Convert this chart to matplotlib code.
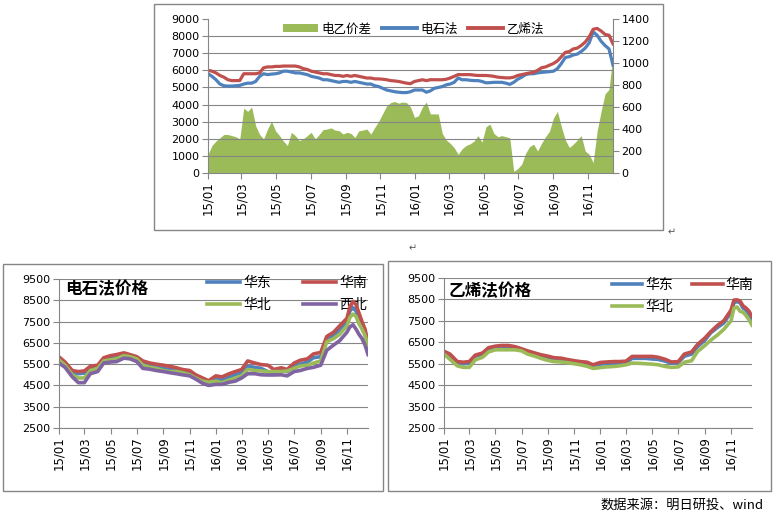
import matplotlib
matplotlib.use('Agg')
import matplotlib.pyplot as plt
import pandas as pd
from matplotlib.patches import Rectangle, Patch
from matplotlib.lines import Line2D

plt.rcParams['font.family'] = ['DejaVu Sans', 'Noto Sans CJK SC']

# ---- data ----
# top chart, weekly
top_dates = pd.date_range('2015-01-01', periods=103, freq='7D')
top_carbide = [5800, 5650, 5450, 5200, 5100, 5080, 5080, 5100, 5120,
               5200, 5250, 5250, 5350, 5650, 5800, 5750, 5780, 5800,
               5850, 5950, 5950, 5900, 5850, 5850, 5800, 5750, 5650,
               5600, 5550, 5450, 5450, 5400, 5350, 5300, 5350,
               5350, 5300, 5350, 5300, 5250, 5200, 5200, 5100, 5050,
               4950, 4850, 4800, 4750, 4720, 4700, 4700, 4750, 4850,
               4850, 4850, 4720, 4800, 4950, 5000, 5050, 5150,
               5200, 5300, 5550, 5450, 5450, 5420, 5400, 5400, 5350,
               5270, 5280, 5300, 5300, 5300, 5250, 5180, 5300, 5480,
               5600, 5750, 5800, 5800, 5850, 5880, 5900, 5920,
               5950, 6100, 6400, 6750, 6800, 6900, 6950, 7100, 7300,
               7600, 8250, 8050, 7700, 7450, 7250, 6300]
top_ethylene = [6000, 5950, 5850, 5700, 5600, 5450, 5400, 5400, 5400,
                5800, 5800, 5800, 5800, 5850, 6150, 6200, 6200, 6230,
                6230, 6250, 6250, 6250, 6250, 6200, 6100, 6050, 5950,
                5900, 5850, 5800, 5800, 5750, 5700, 5700, 5650,
                5700, 5650, 5700, 5650, 5600, 5550, 5550, 5500, 5500,
                5480, 5450, 5400, 5380, 5350, 5300, 5250, 5220, 5350,
                5400, 5450, 5400, 5450, 5450, 5450, 5450, 5480,
                5550, 5650, 5750, 5750, 5750, 5750, 5720, 5700, 5700,
                5700, 5680, 5650, 5600, 5580, 5560, 5560, 5600, 5700,
                5750, 5800, 5850, 5880, 6000, 6150, 6200, 6300,
                6400, 6550, 6800, 7050, 7100, 7250, 7300, 7450, 7650,
                7950, 8400, 8450, 8300, 8100, 8050, 7550]
top_spread = [170, 250, 290, 320, 350, 350, 340, 330, 310,
              590, 560, 600, 430, 350, 310, 400, 470, 384,
              340, 290, 250, 370, 340, 295, 310, 340, 370,
              310, 350, 395, 400, 410, 390, 385, 354,
              370, 360, 323, 384, 390, 400, 354, 415, 470,
              540, 610, 640, 650, 635, 645, 640, 600, 506,
              520, 600, 645, 537, 537, 537, 360, 300,
              270, 230, 170, 220, 250, 265, 290, 340, 280,
              420, 445, 360, 330, 340, 330, 320, 15, 40,
              80, 180, 240, 262, 200, 270, 330, 380,
              500, 560, 420, 300, 232, 262, 300, 340, 200,
              170, 95, 380, 560, 720, 760, 1080]

# bottom charts: semi-monthly, weekly from 2016-11
bot_dates = (list(pd.date_range('2015-01-01', '2016-10-16', freq='SMS'))
             + list(pd.date_range('2016-11-01', periods=8, freq='7D')))

cb_east = [5750, 5500, 5100, 5050, 5080, 5300, 5350, 5700, 5750, 5800,
           5950, 5850, 5800, 5550, 5450, 5350, 5300, 5250, 5200, 5150,
           5050, 4900, 4750, 4700, 4800, 4750, 4900, 5000, 5100, 5400,
           5350, 5300, 5150, 5100, 5200, 5150, 5400, 5500, 5600, 5800,
           5850, 6650, 6850, 7100,
           7500, 8000, 8150, 8000, 7600, 7300, 6900, 6200]
cb_south = [5840, 5600, 5200, 5150, 5180, 5400, 5450, 5800, 5900, 5950,
            6030, 5950, 5850, 5650, 5550, 5500, 5450, 5400, 5330, 5250,
            5200, 5000, 4850, 4720, 4950, 4900, 5050, 5150, 5250, 5650,
            5550, 5480, 5450, 5250, 5330, 5250, 5550, 5680, 5750, 5980,
            6050, 6800, 7000, 7300,
            7650, 8200, 8450, 8300, 7900, 7500, 7150, 6500]
cb_north = [5700, 5450, 5000, 4850, 4850, 5200, 5300, 5650, 5700, 5750,
            5900, 5850, 5750, 5450, 5350, 5300, 5200, 5150, 5150, 5100,
            5000, 4850, 4700, 4650, 4700, 4630, 4750, 4850, 4950, 5250,
            5200, 5180, 5150, 5150, 5150, 5180, 5300, 5410, 5450, 5550,
            5650, 6550, 6700, 6900,
            7300, 7700, 7850, 7750, 7400, 7150, 6850, 6400]
cb_northwest = [5550, 5350, 4900, 4630, 4630, 5050, 5150, 5550, 5600, 5620,
                5780, 5750, 5620, 5300, 5260, 5200, 5150, 5100, 5050, 5000,
                4950, 4800, 4600, 4500, 4550, 4550, 4650, 4700, 4850, 5050,
                5050, 5000, 4990, 4990, 5000, 4950, 5150, 5200, 5300, 5350,
                5450, 6150, 6400, 6600,
                7000, 7250, 7350, 7150, 6900, 6700, 6400, 5950]

et_east = [6000, 5900, 5550, 5500, 5520, 5850, 5950, 6200, 6250, 6300,
           6300, 6250, 6150, 6050, 5950, 5870, 5800, 5700, 5700, 5650,
           5600, 5550, 5500, 5420, 5480, 5500, 5520, 5520, 5550, 5750,
           5750, 5750, 5720, 5700, 5620, 5520, 5560, 5850, 5950, 6300,
           6600, 6950, 7200, 7400,
           7900, 8350, 8400, 8350, 8100, 8000, 7800, 7600]
et_south = [6080, 5950, 5600, 5570, 5600, 5900, 6000, 6250, 6320, 6350,
            6350, 6300, 6200, 6100, 6000, 5920, 5850, 5780, 5760, 5700,
            5640, 5600, 5570, 5450, 5560, 5580, 5600, 5600, 5620, 5840,
            5840, 5840, 5840, 5800, 5700, 5580, 5600, 5950, 6050, 6400,
            6700, 7000, 7300, 7500,
            8000, 8470, 8480, 8430, 8200, 8100, 7950, 7700]
et_north = [5950, 5700, 5400, 5330, 5330, 5680, 5800, 6050, 6150, 6150,
            6150, 6150, 6100, 5950, 5850, 5750, 5650, 5600, 5580, 5550,
            5500, 5450, 5380, 5280, 5320, 5350, 5370, 5400, 5450, 5530,
            5520, 5500, 5480, 5450, 5370, 5330, 5350, 5570, 5640, 6070,
            6350, 6600, 6850, 7100,
            7500, 8100, 8150, 7950, 7900, 7750, 7550, 7300]

tick_dates = pd.date_range('2015-01-01', '2016-11-01', freq='2MS')
tick_labels = ['15/01', '15/03', '15/05', '15/07', '15/09', '15/11',
               '16/01', '16/03', '16/05', '16/07', '16/09', '16/11']

BLUE = '#4F81BD'
RED = '#C0504D'
GREEN = '#9BBB59'
PURPLE = '#8064A2'
GRAY = '#868686'


def style_axes(ax, ylo, yhi, ystep, xend):
    ax.set_ylim(ylo, yhi)
    ax.set_yticks(range(ylo, yhi + 1, ystep))
    ax.set_xlim(pd.Timestamp('2015-01-01'), xend)
    ax.set_xticks(tick_dates)
    ax.set_xticklabels(tick_labels, rotation=90, fontsize=8.5)
    ax.tick_params(axis='y', labelsize=8, length=4, color=GRAY, pad=2)
    ax.tick_params(axis='x', length=4, color=GRAY, pad=2)
    for s in ['top', 'right']:
        ax.spines[s].set_visible(False)
    for s in ['left', 'bottom']:
        ax.spines[s].set_color(GRAY)
    ax.yaxis.grid(True, color=GRAY, lw=0.8)
    ax.set_axisbelow(True)


fig = plt.figure(figsize=(7.73, 5.15), dpi=100)

# frames
for (x0, y0, w, h) in [(154, 4, 509, 226), (3, 264, 380, 227), (388, 261, 383, 230)]:
    fig.patches.append(Rectangle((x0 / 773, 1 - (y0 + h) / 515), w / 773, h / 515,
                                 transform=fig.transFigure, fill=False,
                                 edgecolor=GRAY, lw=1))

# ---- top chart ----
ax_s = fig.add_axes([208 / 773, 1 - 173 / 515, 405 / 773, 154 / 515])
ax_p = ax_s.twinx()
ax_s.set_zorder(0)
ax_p.set_zorder(1)
ax_p.patch.set_visible(False)

ax_s.fill_between(top_dates, 0, top_spread, color=GREEN, lw=0)
ax_s.set_ylim(0, 1400)
ax_s.yaxis.tick_right()
ax_s.set_yticks(range(0, 1401, 200))
grid_vals = [v * 1400 / 9000 for v in range(0, 9001, 1000)]
ax_s.set_yticks(grid_vals, minor=True)
ax_s.yaxis.grid(True, which='minor', color=GRAY, lw=0.8)
ax_s.tick_params(axis='y', which='minor', length=0)
ax_s.tick_params(axis='y', labelsize=8, length=4, color=GRAY, pad=2)
ax_s.set_xlim(pd.Timestamp('2015-01-01'), top_dates[-1])
ax_s.set_xticks(tick_dates)
ax_s.set_xticklabels(tick_labels, rotation=90, fontsize=8.5)
ax_s.tick_params(axis='x', length=4, color=GRAY, pad=2)
ax_s.spines['top'].set_visible(False)
ax_s.spines['left'].set_visible(False)
ax_s.spines['right'].set_color(GRAY)
ax_s.spines['bottom'].set_color(GRAY)

ax_p.plot(top_dates, top_carbide, color=BLUE, lw=2.3)
ax_p.plot(top_dates, top_ethylene, color=RED, lw=2.3)
ax_p.set_ylim(0, 9000)
ax_p.yaxis.tick_left()
ax_p.set_yticks(range(0, 9001, 1000))
ax_p.tick_params(axis='y', labelsize=8, length=4, color=GRAY, pad=2)
ax_p.set_xlim(pd.Timestamp('2015-01-01'), top_dates[-1])
for s in ['top', 'right', 'bottom']:
    ax_p.spines[s].set_visible(False)
ax_p.spines['left'].set_visible(True)
ax_p.spines['left'].set_color(GRAY)

handles = [Patch(color=GREEN, lw=0), Line2D([], [], color=BLUE, lw=2.8),
           Line2D([], [], color=RED, lw=2.8)]
ax_p.legend(handles, ['电乙价差', '电石法', '乙烯法'], ncol=3, loc='center left',
            bbox_to_anchor=(0.185, 0.935), frameon=False, fontsize=9,
            handlelength=2.8, handletextpad=0.3, columnspacing=0.8,
            borderpad=0, borderaxespad=0, handleheight=0.6)

# ---- bottom left: 电石法价格 ----
xend = pd.Timestamp('2016-12-20')
ax1 = fig.add_axes([59 / 773, 1 - 428 / 515, 309 / 773, 149 / 515])
style_axes(ax1, 2500, 9500, 1000, xend)
l_e, = ax1.plot(bot_dates, cb_east, color=BLUE, lw=2.6)
l_s, = ax1.plot(bot_dates, cb_south, color=RED, lw=2.6)
l_n, = ax1.plot(bot_dates, cb_north, color=GREEN, lw=2.6)
l_w, = ax1.plot(bot_dates, cb_northwest, color=PURPLE, lw=2.6)
ax1.text(0.02, 0.935, '电石法价格', transform=ax1.transAxes, fontsize=12,
         fontweight='bold', va='center', ha='left', family='Noto Sans CJK SC')
leg = ax1.legend([l_e, l_n, l_s, l_w], ['华东', '华北', '华南', '西北'], ncol=2,
                 loc='upper left', bbox_to_anchor=(0.479, 1.02), frameon=False,
                 fontsize=10, handlelength=2.4, handletextpad=0.2,
                 columnspacing=2.3, labelspacing=0.55, borderpad=0,
                 borderaxespad=0)
leg.set_zorder(1)

# ---- bottom right: 乙烯法价格 ----
ax2 = fig.add_axes([444 / 773, 1 - 428 / 515, 308 / 773, 150 / 515])
style_axes(ax2, 2500, 9500, 1000, xend)
m_e, = ax2.plot(bot_dates, et_east, color=BLUE, lw=2.6)
m_s, = ax2.plot(bot_dates, et_south, color=RED, lw=2.6)
m_n, = ax2.plot(bot_dates, et_north, color=GREEN, lw=2.6)
ax2.text(0.015, 0.915, '乙烯法价格', transform=ax2.transAxes, fontsize=12,
         fontweight='bold', va='center', ha='left', family='Noto Sans CJK SC')
leg2 = ax2.legend([m_e, m_n, m_s], ['华东', '华北', '华南'], ncol=2,
                  loc='upper left', bbox_to_anchor=(0.545, 1.0), frameon=False,
                  fontsize=10, handlelength=2.2, handletextpad=0.2,
                  columnspacing=1.4, labelspacing=0.6, borderpad=0,
                  borderaxespad=0)
leg2.set_zorder(1)

# notes
fig.text(600 / 773, 1 - 505 / 515, '数据来源：明日研投、wind', fontsize=9.5,
         style='italic', va='center', ha='left',
         family=['Noto Sans CJK SC', 'DejaVu Sans'])
fig.text(672 / 773, 1 - 232 / 515, '↵', fontsize=7, color='#555555',
         va='center', ha='center')
fig.text(413 / 773, 1 - 248 / 515, '↵', fontsize=7, color='#555555',
         va='center', ha='center')

fig.savefig('out.png', dpi=100)
